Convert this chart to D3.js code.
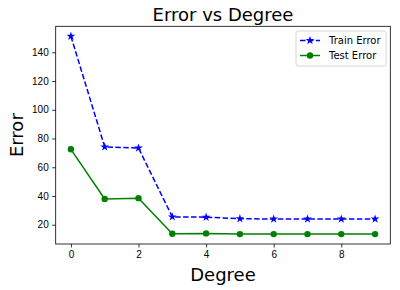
<!DOCTYPE html>
<html>
<head>
<meta charset="utf-8">
<script src="https://cdn.jsdelivr.net/npm/d3@7"></script>
<style>
  body { margin: 0; background: #fff; }
  svg { font-family: "DejaVu Sans", sans-serif; }
  .tick text { font-size: 10px; fill: #000; }
  .tick line { stroke: #000; stroke-width: 0.8; }
  .domain { display: none; }
</style>
</head>
<body>
<div id="chart"></div>
<script>
var degrees = [0, 1, 2, 3, 4, 5, 6, 7, 8, 9];
var train_error = [151.2, 74.2, 73.4, 25.5, 25.3, 24.2, 24, 24, 24, 24];
var test_error = [72.5, 38, 38.5, 13.7, 14, 13.5, 13.5, 13.5, 13.5, 13.5];
var x_ticks = [0, 2, 4, 6, 8];
var y_ticks = [20, 40, 60, 80, 100, 120, 140];

var chart_width = 400;
var chart_height = 290;
var left = 55.7, right = 390.3, top_ = 26.3, bottom = 244;

var svg = d3.select('#chart')
  .append('svg')
  .attr('width', chart_width)
  .attr('height', chart_height);

// matplotlib style 5% margins
var x_scale = d3.scaleLinear()
  .domain([-0.45, 9.45])
  .range([left, right]);

var all_vals = train_error.concat(test_error);
var y_min = d3.min(all_vals), y_max = d3.max(all_vals);
var pad = (y_max - y_min) * 0.05;
var y_scale = d3.scaleLinear()
  .domain([y_min - pad, y_max + pad])
  .range([bottom, top_]);

// axes
svg.append('g')
  .attr('transform', 'translate(0,' + bottom + ')')
  .call(d3.axisBottom(x_scale).tickValues(x_ticks).tickSize(3.5).tickPadding(3.5).tickFormat(d3.format('d')));

svg.append('g')
  .attr('transform', 'translate(' + left + ',0)')
  .call(d3.axisLeft(y_scale).tickValues(y_ticks).tickSize(3.5).tickPadding(3.5).tickFormat(d3.format('d')));

// frame
svg.append('rect')
  .attr('x', left)
  .attr('y', top_)
  .attr('width', right - left)
  .attr('height', bottom - top_)
  .attr('fill', 'none')
  .attr('stroke', '#000')
  .attr('stroke-width', 0.8);

var line = function(vals) {
  return d3.line()
    .x(function(d, i) { return x_scale(degrees[i]); })
    .y(function(d) { return y_scale(d); })(vals);
};

var star = d3.symbol().type(d3.symbolStar).size(24);

// train error
svg.append('path')
  .attr('d', line(train_error))
  .attr('fill', 'none')
  .attr('stroke', 'blue')
  .attr('stroke-width', 1.5)
  .attr('stroke-dasharray', '5.5,2.4');

svg.append('g')
  .selectAll('path')
  .data(train_error)
  .enter()
  .append('path')
  .attr('d', star)
  .attr('transform', function(d, i) {
    return 'translate(' + x_scale(degrees[i]) + ',' + y_scale(d) + ')';
  })
  .attr('fill', 'blue');

// test error
svg.append('path')
  .attr('d', line(test_error))
  .attr('fill', 'none')
  .attr('stroke', 'green')
  .attr('stroke-width', 1.5);

svg.append('g')
  .selectAll('circle')
  .data(test_error)
  .enter()
  .append('circle')
  .attr('cx', function(d, i) { return x_scale(degrees[i]); })
  .attr('cy', function(d) { return y_scale(d); })
  .attr('r', 3.2)
  .attr('fill', 'green');

// titles
svg.append('text')
  .attr('x', (left + right) / 2)
  .attr('y', 21)
  .attr('text-anchor', 'middle')
  .attr('font-size', 18)
  .text('Error vs Degree');

svg.append('text')
  .attr('x', (left + right) / 2)
  .attr('y', 281)
  .attr('text-anchor', 'middle')
  .attr('font-size', 18)
  .text('Degree');

svg.append('text')
  .attr('transform', 'translate(23,' + (top_ + bottom) / 2 + ') rotate(-90)')
  .attr('text-anchor', 'middle')
  .attr('font-size', 18)
  .text('Error');

// legend
var legend = svg.append('g').attr('transform', 'translate(296,31)');
legend.append('rect')
  .attr('width', 90)
  .attr('height', 35)
  .attr('rx', 2)
  .attr('fill', '#fff')
  .attr('stroke', '#ccc')
  .attr('stroke-width', 0.8);

var items = [
  { name: 'Train Error', color: 'blue', dash: '5.5,2.4', marker: 'star' },
  { name: 'Test Error', color: 'green', dash: null, marker: 'circle' }
];

items.forEach(function(it, i) {
  var y = 9.5 + i * 15;
  legend.append('line')
    .attr('x1', 4).attr('x2', 24)
    .attr('y1', y).attr('y2', y)
    .attr('stroke', it.color)
    .attr('stroke-width', 1.5)
    .attr('stroke-dasharray', it.dash);
  if (it.marker === 'star') {
    legend.append('path')
      .attr('d', star)
      .attr('transform', 'translate(14,' + y + ')')
      .attr('fill', it.color);
  } else {
    legend.append('circle')
      .attr('cx', 14).attr('cy', y).attr('r', 3.2)
      .attr('fill', it.color);
  }
  legend.append('text')
    .attr('x', 33)
    .attr('y', y + 3.5)
    .attr('font-size', 10)
    .text(it.name);
});
</script>
</body>
</html>
